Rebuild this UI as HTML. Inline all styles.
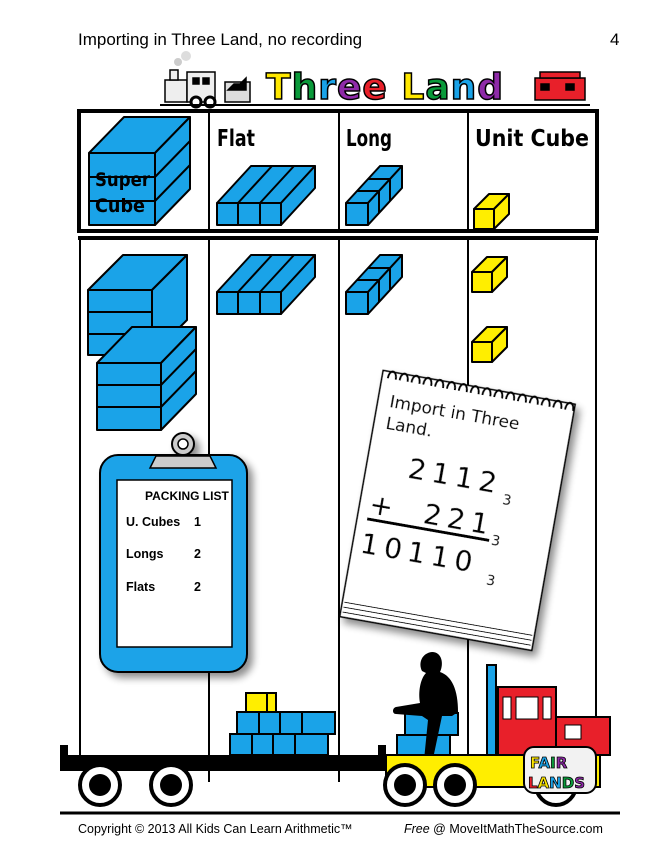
<!DOCTYPE html>
<html><head><style>body{margin:0;background:#fff}svg{display:block}</style></head><body>
<svg width="660" height="855" viewBox="0 0 660 855" xmlns="http://www.w3.org/2000/svg" font-family="Liberation Sans, sans-serif">
<defs>
<filter id="sh" x="-20%" y="-20%" width="150%" height="150%"><feGaussianBlur in="SourceAlpha" stdDeviation="4"/><feOffset dx="5" dy="5"/><feComponentTransfer><feFuncA type="linear" slope="0.45"/></feComponentTransfer><feMerge><feMergeNode/><feMergeNode in="SourceGraphic"/></feMerge></filter>
</defs>
<rect width="660" height="855" fill="#fff"/>
<text x="78" y="45" font-size="17">Importing in Three Land, no recording</text>
<text x="610" y="45" font-size="17">4</text>

<g stroke="#000" stroke-width="1.5">
<circle cx="178" cy="62" r="4" fill="#ccc" stroke="none"/><circle cx="186" cy="56" r="5" fill="#ddd" stroke="none"/>
<rect x="165" y="80" width="22" height="22" fill="#eee"/>
<rect x="187" y="72" width="28" height="30" fill="#eee"/>
<rect x="193" y="78" width="6" height="6" fill="#000"/><rect x="203" y="78" width="6" height="6" fill="#000"/>
<rect x="170" y="70" width="8" height="10" fill="#eee"/>
<circle cx="196" cy="102" r="5" fill="#fff" stroke-width="3"/><circle cx="210" cy="102" r="5" fill="#fff" stroke-width="3"/>
<rect x="225" y="82" width="25" height="20" fill="#ddd"/><path d="M228 90 l6-6 6 0 6-6 v12z" fill="#000"/>
<rect x="535" y="78" width="50" height="22" fill="#e8202a"/><rect x="540" y="72" width="40" height="6" fill="#e8202a"/>
<rect x="541" y="84" width="8" height="6" fill="#000"/><rect x="566" y="84" width="8" height="6" fill="#000"/>
</g>
<line x1="160" y1="105" x2="590" y2="105" stroke="#000" stroke-width="2"/>
<text x="266" y="99" font-family="DejaVu Sans, sans-serif" font-weight="bold" font-size="36" stroke="#000" stroke-width="1.5" letter-spacing="1"><tspan fill="#ffe800">T</tspan><tspan fill="#0a9a3a">h</tspan><tspan fill="#1aa3e8">r</tspan><tspan fill="#8e2aa8">e</tspan><tspan fill="#e8202a">e</tspan><tspan fill="#fff"> </tspan><tspan fill="#ffe800">L</tspan><tspan fill="#0a9a3a">a</tspan><tspan fill="#1aa3e8">n</tspan><tspan fill="#8e2aa8">d</tspan></text>

<rect x="79" y="111" width="518" height="120" fill="none" stroke="#000" stroke-width="4"/>
<g stroke="#000" stroke-width="2"><line x1="209" y1="111" x2="209" y2="231"/><line x1="339" y1="111" x2="339" y2="231"/><line x1="468" y1="111" x2="468" y2="231"/></g>
<g font-family="DejaVu Sans Condensed, DejaVu Sans, sans-serif" font-weight="bold" font-size="23" fill="#000">
<text x="217" y="146" textLength="38" lengthAdjust="spacingAndGlyphs">Flat</text><text x="346" y="146" textLength="46" lengthAdjust="spacingAndGlyphs">Long</text><text x="475" y="146" textLength="114" lengthAdjust="spacingAndGlyphs">Unit Cube</text></g>

<g stroke="#000" stroke-width="2" stroke-linejoin="round">
<path d="M89 153 l35 -36 h66 l-35 36z" fill="#1aa3e8"/><path d="M155 153 l35 -36 v72 l-35 36z" fill="#1aa3e8"/>
<rect x="89" y="153" width="66" height="72" fill="#1aa3e8"/>
<line x1="89" y1="177" x2="155" y2="177"/><line x1="89" y1="201" x2="155" y2="201"/>
<line x1="155" y1="177" x2="190" y2="141"/><line x1="155" y1="201" x2="190" y2="165"/>
<path d="M217 203 l34 -37 h64 l-34 37z" fill="#1aa3e8"/><path d="M281 203 l34 -37 v22 l-34 37z" fill="#1aa3e8"/>
<rect x="217" y="203" width="64" height="22" fill="#1aa3e8"/>
<line x1="238" y1="203" x2="238" y2="225"/><line x1="260" y1="203" x2="260" y2="225"/>
<line x1="238" y1="203" x2="272" y2="166"/><line x1="260" y1="203" x2="294" y2="166"/>
<path d="M346 203 l34 -37 h22 l-34 37z" fill="#1aa3e8"/><path d="M368 203 l34 -37 v22 l-34 37z" fill="#1aa3e8"/>
<rect x="346" y="203" width="22" height="22" fill="#1aa3e8"/>
<line x1="357" y1="191" x2="379" y2="191"/><line x1="368" y1="179" x2="390" y2="179"/>
<line x1="379" y1="191" x2="379" y2="213"/><line x1="390" y1="179" x2="390" y2="201"/>
<path d="M474 209 l15 -15 h20 l-15 15z" fill="#ffee00"/><path d="M494 209 l15 -15 v20 l-15 15z" fill="#ffee00"/>
<rect x="474" y="209" width="20" height="20" fill="#ffee00"/>
</g>
<text x="95" y="186" font-family="DejaVu Sans Condensed, DejaVu Sans, sans-serif" font-weight="bold" font-size="19" textLength="55" lengthAdjust="spacingAndGlyphs">Super</text>
<text x="95" y="212" font-family="DejaVu Sans Condensed, DejaVu Sans, sans-serif" font-weight="bold" font-size="19" textLength="50" lengthAdjust="spacingAndGlyphs">Cube</text>

<line x1="78" y1="238" x2="598" y2="238" stroke="#000" stroke-width="4"/>
<g stroke="#000" stroke-width="2">
<line x1="80" y1="237" x2="80" y2="757"/><line x1="596" y1="237" x2="596" y2="720"/>
<line x1="209" y1="237" x2="209" y2="782"/><line x1="339" y1="237" x2="339" y2="782"/><line x1="468" y1="237" x2="468" y2="782"/>
</g>

<g stroke="#000" stroke-width="2" stroke-linejoin="round">
<path d="M88 290 l35 -35 h64 l-35 35z" fill="#1aa3e8"/><path d="M152 290 l35 -35 v65 l-35 35z" fill="#1aa3e8"/>
<rect x="88" y="290" width="64" height="65" fill="#1aa3e8"/>
<line x1="88" y1="312" x2="152" y2="312"/><line x1="88" y1="334" x2="152" y2="334"/>
<path d="M97 363 l35 -36 h64 l-35 36z" fill="#1aa3e8"/><path d="M161 363 l35 -36 v67 l-35 36z" fill="#1aa3e8"/>
<rect x="97" y="363" width="64" height="67" fill="#1aa3e8"/>
<line x1="97" y1="385" x2="161" y2="385"/><line x1="97" y1="407" x2="161" y2="407"/>
<line x1="161" y1="385" x2="196" y2="349"/><line x1="161" y1="407" x2="196" y2="371"/>
<path d="M217 292 l34 -37 h64 l-34 37z" fill="#1aa3e8"/><path d="M281 292 l34 -37 v22 l-34 37z" fill="#1aa3e8"/>
<rect x="217" y="292" width="64" height="22" fill="#1aa3e8"/>
<line x1="238" y1="292" x2="238" y2="314"/><line x1="260" y1="292" x2="260" y2="314"/>
<line x1="238" y1="292" x2="272" y2="255"/><line x1="260" y1="292" x2="294" y2="255"/>
<path d="M346 292 l34 -37 h22 l-34 37z" fill="#1aa3e8"/><path d="M368 292 l34 -37 v22 l-34 37z" fill="#1aa3e8"/>
<rect x="346" y="292" width="22" height="22" fill="#1aa3e8"/>
<line x1="357" y1="280" x2="379" y2="280"/><line x1="368" y1="268" x2="390" y2="268"/>
<line x1="379" y1="280" x2="379" y2="302"/><line x1="390" y1="268" x2="390" y2="290"/>
<path d="M472 272 l15 -15 h20 l-15 15z" fill="#ffee00"/><path d="M492 272 l15 -15 v20 l-15 15z" fill="#ffee00"/><rect x="472" y="272" width="20" height="20" fill="#ffee00"/>
<path d="M472 342 l15 -15 h20 l-15 15z" fill="#ffee00"/><path d="M492 342 l15 -15 v20 l-15 15z" fill="#ffee00"/><rect x="472" y="342" width="20" height="20" fill="#ffee00"/>
</g>

<g filter="url(#sh)">
<rect x="100" y="455" width="147" height="217" rx="18" fill="#1aa3e8" stroke="#000" stroke-width="2"/>
<rect x="117" y="480" width="115" height="167" fill="#fff" stroke="#000" stroke-width="1.5"/>
<path d="M150 468 h66 l-6 -12 h-54z" fill="#ccc" stroke="#000" stroke-width="1.5"/>
<circle cx="183" cy="444" r="11" fill="#ccc" stroke="#000" stroke-width="2"/><circle cx="183" cy="444" r="5" fill="#fff" stroke="#000" stroke-width="1.5"/>
</g>
<g font-weight="bold" font-size="12.5">
<text x="145" y="500" font-size="12">PACKING LIST</text>
<text x="126" y="526">U. Cubes</text><text x="194" y="526">1</text>
<text x="126" y="558">Longs</text><text x="194" y="558">2</text>
<text x="126" y="591">Flats</text><text x="194" y="591">2</text>
</g>

<g transform="rotate(10 455 510)" filter="url(#sh)">
<rect x="360" y="385" width="195" height="250" fill="#fff" stroke="#000" stroke-width="1.5"/>
<g stroke="#000" stroke-width="1" fill="none"><line x1="362" y1="620" x2="553" y2="620"/><line x1="362" y1="625" x2="553" y2="625"/><line x1="362" y1="630" x2="553" y2="630"/></g>
<g stroke="#000" stroke-width="2" fill="none">
<path d="M366 392 c0 -10 8 -10 8 0 M378 392 c0 -10 8 -10 8 0 M390 392 c0 -10 8 -10 8 0 M402 392 c0 -10 8 -10 8 0 M414 392 c0 -10 8 -10 8 0 M426 392 c0 -10 8 -10 8 0 M438 392 c0 -10 8 -10 8 0 M450 392 c0 -10 8 -10 8 0 M462 392 c0 -10 8 -10 8 0 M474 392 c0 -10 8 -10 8 0 M486 392 c0 -10 8 -10 8 0 M498 392 c0 -10 8 -10 8 0 M510 392 c0 -10 8 -10 8 0 M522 392 c0 -10 8 -10 8 0 M534 392 c0 -10 8 -10 8 0 M546 392 c0 -10 8 -10 8 0"/>
</g>
<g font-family="DejaVu Sans, sans-serif" fill="#000">
<text x="372" y="420" font-size="17">Import in Three</text>
<text x="372" y="442" font-size="17">Land.</text>
<text x="402" y="486" font-size="28" letter-spacing="6">2112</text><text x="500" y="496" font-size="14">3</text>
<text x="370" y="528" font-size="28">+</text><text x="425" y="528" font-size="28" letter-spacing="6">221</text><text x="496" y="538" font-size="14">3</text>
<line x1="370" y1="534" x2="494" y2="534" stroke="#000" stroke-width="3"/>
<text x="368" y="568" font-size="28" letter-spacing="6">10110</text><text x="498" y="578" font-size="14">3</text>
</g>
</g>

<g stroke="#000" stroke-width="2">
<rect x="246" y="693" width="30" height="19" fill="#ffee00"/><line x1="267" y1="693" x2="267" y2="712"/>
<rect x="237" y="712" width="98" height="22" fill="#1aa3e8"/><line x1="259" y1="712" x2="259" y2="734"/><line x1="280" y1="712" x2="280" y2="734"/><line x1="302" y1="712" x2="302" y2="734"/>
<rect x="230" y="734" width="98" height="21" fill="#1aa3e8"/><line x1="252" y1="734" x2="252" y2="755"/><line x1="273" y1="734" x2="273" y2="755"/><line x1="295" y1="734" x2="295" y2="755"/>
<rect x="405" y="713" width="53" height="22" fill="#1aa3e8"/><rect x="397" y="735" width="53" height="20" fill="#1aa3e8"/>
</g>
<path d="M432 652 c10 0 12 12 8 20 c12 4 18 18 18 40 l-6 4 l-10 0 l-8 38 l-10 6 l4 -40 l-6 -4 l-26 -2 c-4 0 -4 -6 0 -7 l24 -4 c-2 -10 0 -24 6 -30 l-4 -2 c-4 -8 0 -18 10 -19z" fill="#000"/>

<rect x="487" y="665" width="9" height="90" fill="#1aa3e8" stroke="#000" stroke-width="2"/>
<rect x="498" y="687" width="58" height="68" fill="#e8202a" stroke="#000" stroke-width="2"/>
<rect x="503" y="697" width="8" height="22" fill="#fff" stroke="#000"/><rect x="516" y="697" width="22" height="22" fill="#fff" stroke="#000"/><rect x="543" y="697" width="8" height="22" fill="#fff" stroke="#000"/>
<rect x="556" y="717" width="54" height="38" fill="#e8202a" stroke="#000" stroke-width="2"/>
<rect x="565" y="725" width="16" height="14" fill="#fff" stroke="#000"/>
<rect x="60" y="755" width="326" height="16" fill="#000"/>
<rect x="60" y="745" width="8" height="10" fill="#000"/><rect x="378" y="745" width="8" height="10" fill="#000"/>
<rect x="386" y="755" width="214" height="32" fill="#ffee00" stroke="#000" stroke-width="2"/>
<g stroke="#000" stroke-width="4" fill="#fff">
<circle cx="100" cy="785" r="20"/><circle cx="171" cy="785" r="20"/><circle cx="405" cy="785" r="20"/><circle cx="455" cy="785" r="20"/><circle cx="556" cy="785" r="20"/>
</g>
<g fill="#000"><circle cx="100" cy="785" r="11"/><circle cx="171" cy="785" r="11"/><circle cx="405" cy="785" r="11"/><circle cx="455" cy="785" r="11"/></g>
<rect x="524" y="747" width="72" height="46" rx="10" fill="#f2f2f2" stroke="#000" stroke-width="2"/>
<g font-family="DejaVu Sans, sans-serif" font-weight="bold" font-size="15" stroke="#000" stroke-width="0.8">
<text x="530" y="768"><tspan fill="#ffe800">F</tspan><tspan fill="#1aa3e8">A</tspan><tspan fill="#0a9a3a">I</tspan><tspan fill="#8e2aa8">R</tspan></text>
<text x="528" y="788"><tspan fill="#e8202a">L</tspan><tspan fill="#ffe800">A</tspan><tspan fill="#1aa3e8">N</tspan><tspan fill="#0a9a3a">D</tspan><tspan fill="#8e2aa8">S</tspan></text>
</g>
<line x1="60" y1="813" x2="620" y2="813" stroke="#000" stroke-width="3"/>
<text x="78" y="833" font-size="12.5">Copyright © 2013 All Kids Can Learn Arithmetic™</text>
<text x="404" y="833" font-size="12.5"><tspan font-style="italic">Free</tspan> @ MoveItMathTheSource.com</text>
</svg>
</body></html>
